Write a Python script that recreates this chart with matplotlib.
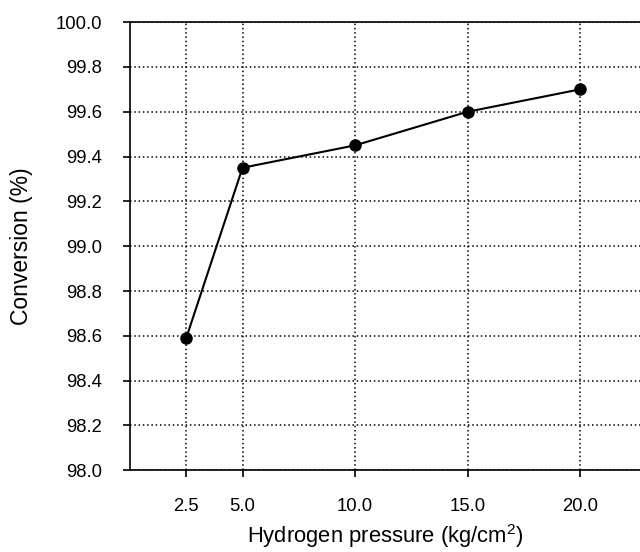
import matplotlib
matplotlib.use("Agg")
import matplotlib.pyplot as plt
import numpy as np

pressure = [2.5, 5.0, 10.0, 15.0, 20.0]
conversion = [98.59, 99.35, 99.45, 99.60, 99.70]
x_ticks = [2.5, 5.0, 10.0, 15.0, 20.0]
x_tick_labels = ["2.5", "5.0", "10.0", "15.0", "20.0"]
y_ticks = np.round(np.arange(98.0, 100.01, 0.2), 1)

plt.rcParams['font.family'] = ['Liberation Sans', 'DejaVu Sans']
plt.rcParams['mathtext.fontset'] = 'custom'
plt.rcParams['mathtext.rm'] = 'Liberation Sans'
plt.rcParams['mathtext.it'] = 'Liberation Sans'

fig = plt.figure(figsize=(6.4, 5.52), dpi=100)
ax = fig.add_axes([0.203, 0.148, 0.797, 0.812])

ax.plot(pressure, conversion, color='black', lw=1.5, marker='o',
        markersize=8, zorder=3, clip_on=False)

ax.set_xlim(0, 22.65)
ax.set_ylim(98.0, 100.0)
ax.set_xticks(x_ticks)
ax.set_xticklabels(x_tick_labels)
ax.set_yticks(y_ticks)
ax.set_yticklabels([f"{v:.1f}" for v in y_ticks])

ax.grid(True, color='black', lw=1.1, linestyle=(0, (1, 1.8)))
ax.set_axisbelow(True)

for side in ['left', 'bottom', 'top']:
    ax.spines[side].set_linewidth(1.2)
    ax.spines[side].set_color('black')
ax.spines['right'].set_visible(False)

ax.tick_params(axis='both', direction='out', length=5, width=1.2,
               labelsize=13.3, pad=15, colors='black')

ax.set_xlabel("Hydrogen pressure (kg/cm$^2$)", fontsize=15.8, labelpad=5)
ax.set_ylabel("Conversion (%)", fontsize=16.5, labelpad=16)

fig.savefig("out.png", dpi=100)
plt.close(fig)
